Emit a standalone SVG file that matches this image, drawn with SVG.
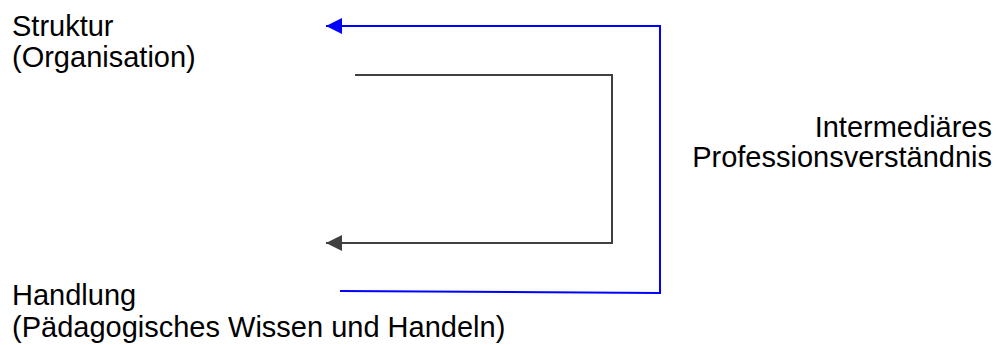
<svg xmlns="http://www.w3.org/2000/svg" width="1001" height="345" viewBox="0 0 1001 345">
<style>
text{font-family:"Liberation Sans",Arial,sans-serif;font-size:29px;fill:#000}
.blue{stroke:#0000FF;stroke-width:2;fill:none}
.dark{stroke:#404040;stroke-width:2;fill:none}
</style>
<defs>
<marker id="ab" markerUnits="userSpaceOnUse" markerWidth="18" markerHeight="18" refX="16" refY="8" orient="auto" viewBox="0 0 18 16">
<path d="M0,0 L16,8 L0,16 Z" fill="#0000FF"/>
</marker>
<marker id="ad" markerUnits="userSpaceOnUse" markerWidth="18" markerHeight="18" refX="16" refY="8" orient="auto" viewBox="0 0 18 16">
<path d="M0,0 L16,8 L0,16 Z" fill="#404040"/>
</marker>
</defs>
<g id="struktur"><text x="12" y="36">Struktur</text><text x="12" y="67">(Organisation)</text></g>
<g id="handlung"><text x="12" y="305">Handlung</text><text x="12" y="337">(Pädagogisches Wissen und Handeln)</text></g>
<g id="intermediaer"><text x="992" y="137" text-anchor="end">Intermediäres</text><text x="992" y="167" text-anchor="end">Professionsverständnis</text></g>
<g id="connectors">
<path class="blue" d="M340,291 L660,293 L660,26 L326,26" marker-end="url(#ab)"/>
<path class="dark" d="M355,75 L612,75 L612,243 L326,243" marker-end="url(#ad)"/>
</g>
</svg>
